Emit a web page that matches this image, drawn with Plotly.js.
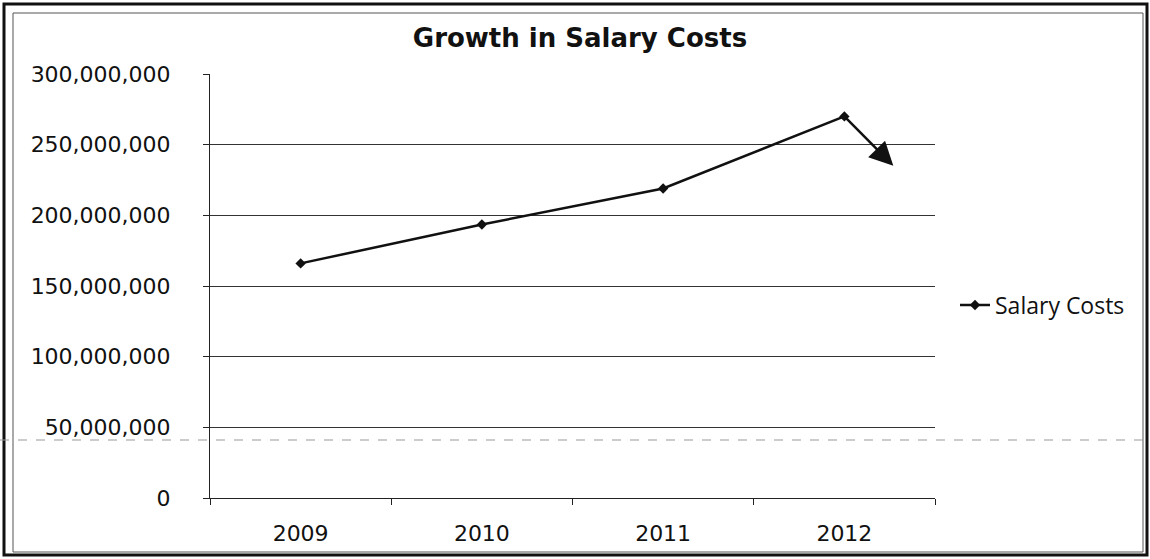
<!DOCTYPE html>
<html>
<head>
<meta charset="utf-8">
<script src="https://cdn.plot.ly/plotly-3.0.1.min.js"></script>
<style>html,body{margin:0;padding:0;background:#fff;}#chart{width:1150px;height:559px;}</style>
</head>
<body>
<div id="chart"></div>
<script>
// ---- data ----
const years = ["2009", "2010", "2011", "2012"];
const salaryCosts = [166000000, 193500000, 219000000, 270000000];
const arrowTipValue = 235000000;   // where the drawn arrow ends
const arrowTipOffset = 0.27;       // category offset past 2012
const yTicks = [0, 50000000, 100000000, 150000000, 200000000, 250000000, 300000000];
const yTickLabels = ["0", "50,000,000", "100,000,000", "150,000,000", "200,000,000", "250,000,000", "300,000,000"];

// ---- layout helpers ----
const W = 1150, H = 559, L = 210, R = 935, T = 74, B = 498;
const px = v => (v - L) / (R - L);
const py = v => (B - v) / (B - T);

const trace = {
  x: years, y: salaryCosts, type: 'scatter', mode: 'lines+markers',
  name: 'Salary Costs',
  line: {color: '#111', width: 2.5},
  marker: {symbol: 'diamond', size: 8, color: '#111'}
};

const layout = {
  width: W, height: H,
  margin: {l: L, r: W - R, t: T, b: H - B, pad: 0},
  paper_bgcolor: '#fff', plot_bgcolor: '#fff',
  font: {family: 'DejaVu Sans, sans-serif', color: '#111'},
  title: {text: '<b>Growth in Salary Costs</b>', x: 580 / W, xref: 'container', xanchor: 'center',
          y: 1 - 38 / H, yref: 'container', yanchor: 'middle',
          font: {family: 'DejaVu Sans, sans-serif', size: 26, color: '#111'}},
  xaxis: {type: 'category', range: [-0.5, 3.5], showline: true, linecolor: '#222', linewidth: 1,
          ticks: 'outside', ticklen: 6, tickcolor: '#222', tickson: 'boundaries',
          showgrid: false, zeroline: false, ticklabelstandoff: 16,
          tickfont: {size: 22, color: '#111'}, fixedrange: true},
  yaxis: {range: [0, 300000000], tickvals: yTicks, ticktext: yTickLabels,
          showline: true, linecolor: '#222', linewidth: 1,
          ticks: 'outside', ticklen: 6, tickcolor: '#222',
          showgrid: true, gridcolor: '#333', gridwidth: 1, zeroline: false,
          ticklabelstandoff: 28, tickfont: {size: 22, color: '#111'}},
  showlegend: true,
  legend: {x: px(955), xanchor: 'left', y: py(305), yanchor: 'middle',
           font: {size: 23, family: 'Open Sans, sans-serif', color: '#111'},
           bgcolor: 'rgba(0,0,0,0)', itemwidth: 30},
  annotations: [{
    x: 3 + arrowTipOffset, y: arrowTipValue, xref: 'x', yref: 'y',
    ax: 3, ay: salaryCosts[3], axref: 'x', ayref: 'y',
    showarrow: true, arrowhead: 2, arrowsize: 1.9, arrowwidth: 2.5, arrowcolor: '#111', text: ''
  }],
  shapes: [
    // outer thick frame
    {type: 'rect', xref: 'paper', yref: 'paper', x0: px(4), x1: px(1147), y0: py(555), y1: py(4),
     line: {color: '#111', width: 3}},
    // inner thin frame
    {type: 'rect', xref: 'paper', yref: 'paper', x0: px(13), x1: px(1143), y0: py(552), y1: py(13),
     line: {color: '#555', width: 1}},
    // faint scan line across the page
    {type: 'line', xref: 'paper', yref: 'paper', x0: px(0), x1: px(1150), y0: py(440), y1: py(440),
     line: {color: '#999', width: 1, dash: 'dash'}}
  ]
};

Plotly.newPlot('chart', [trace], layout, {displayModeBar: false, staticPlot: true});
</script>
</body>
</html>
